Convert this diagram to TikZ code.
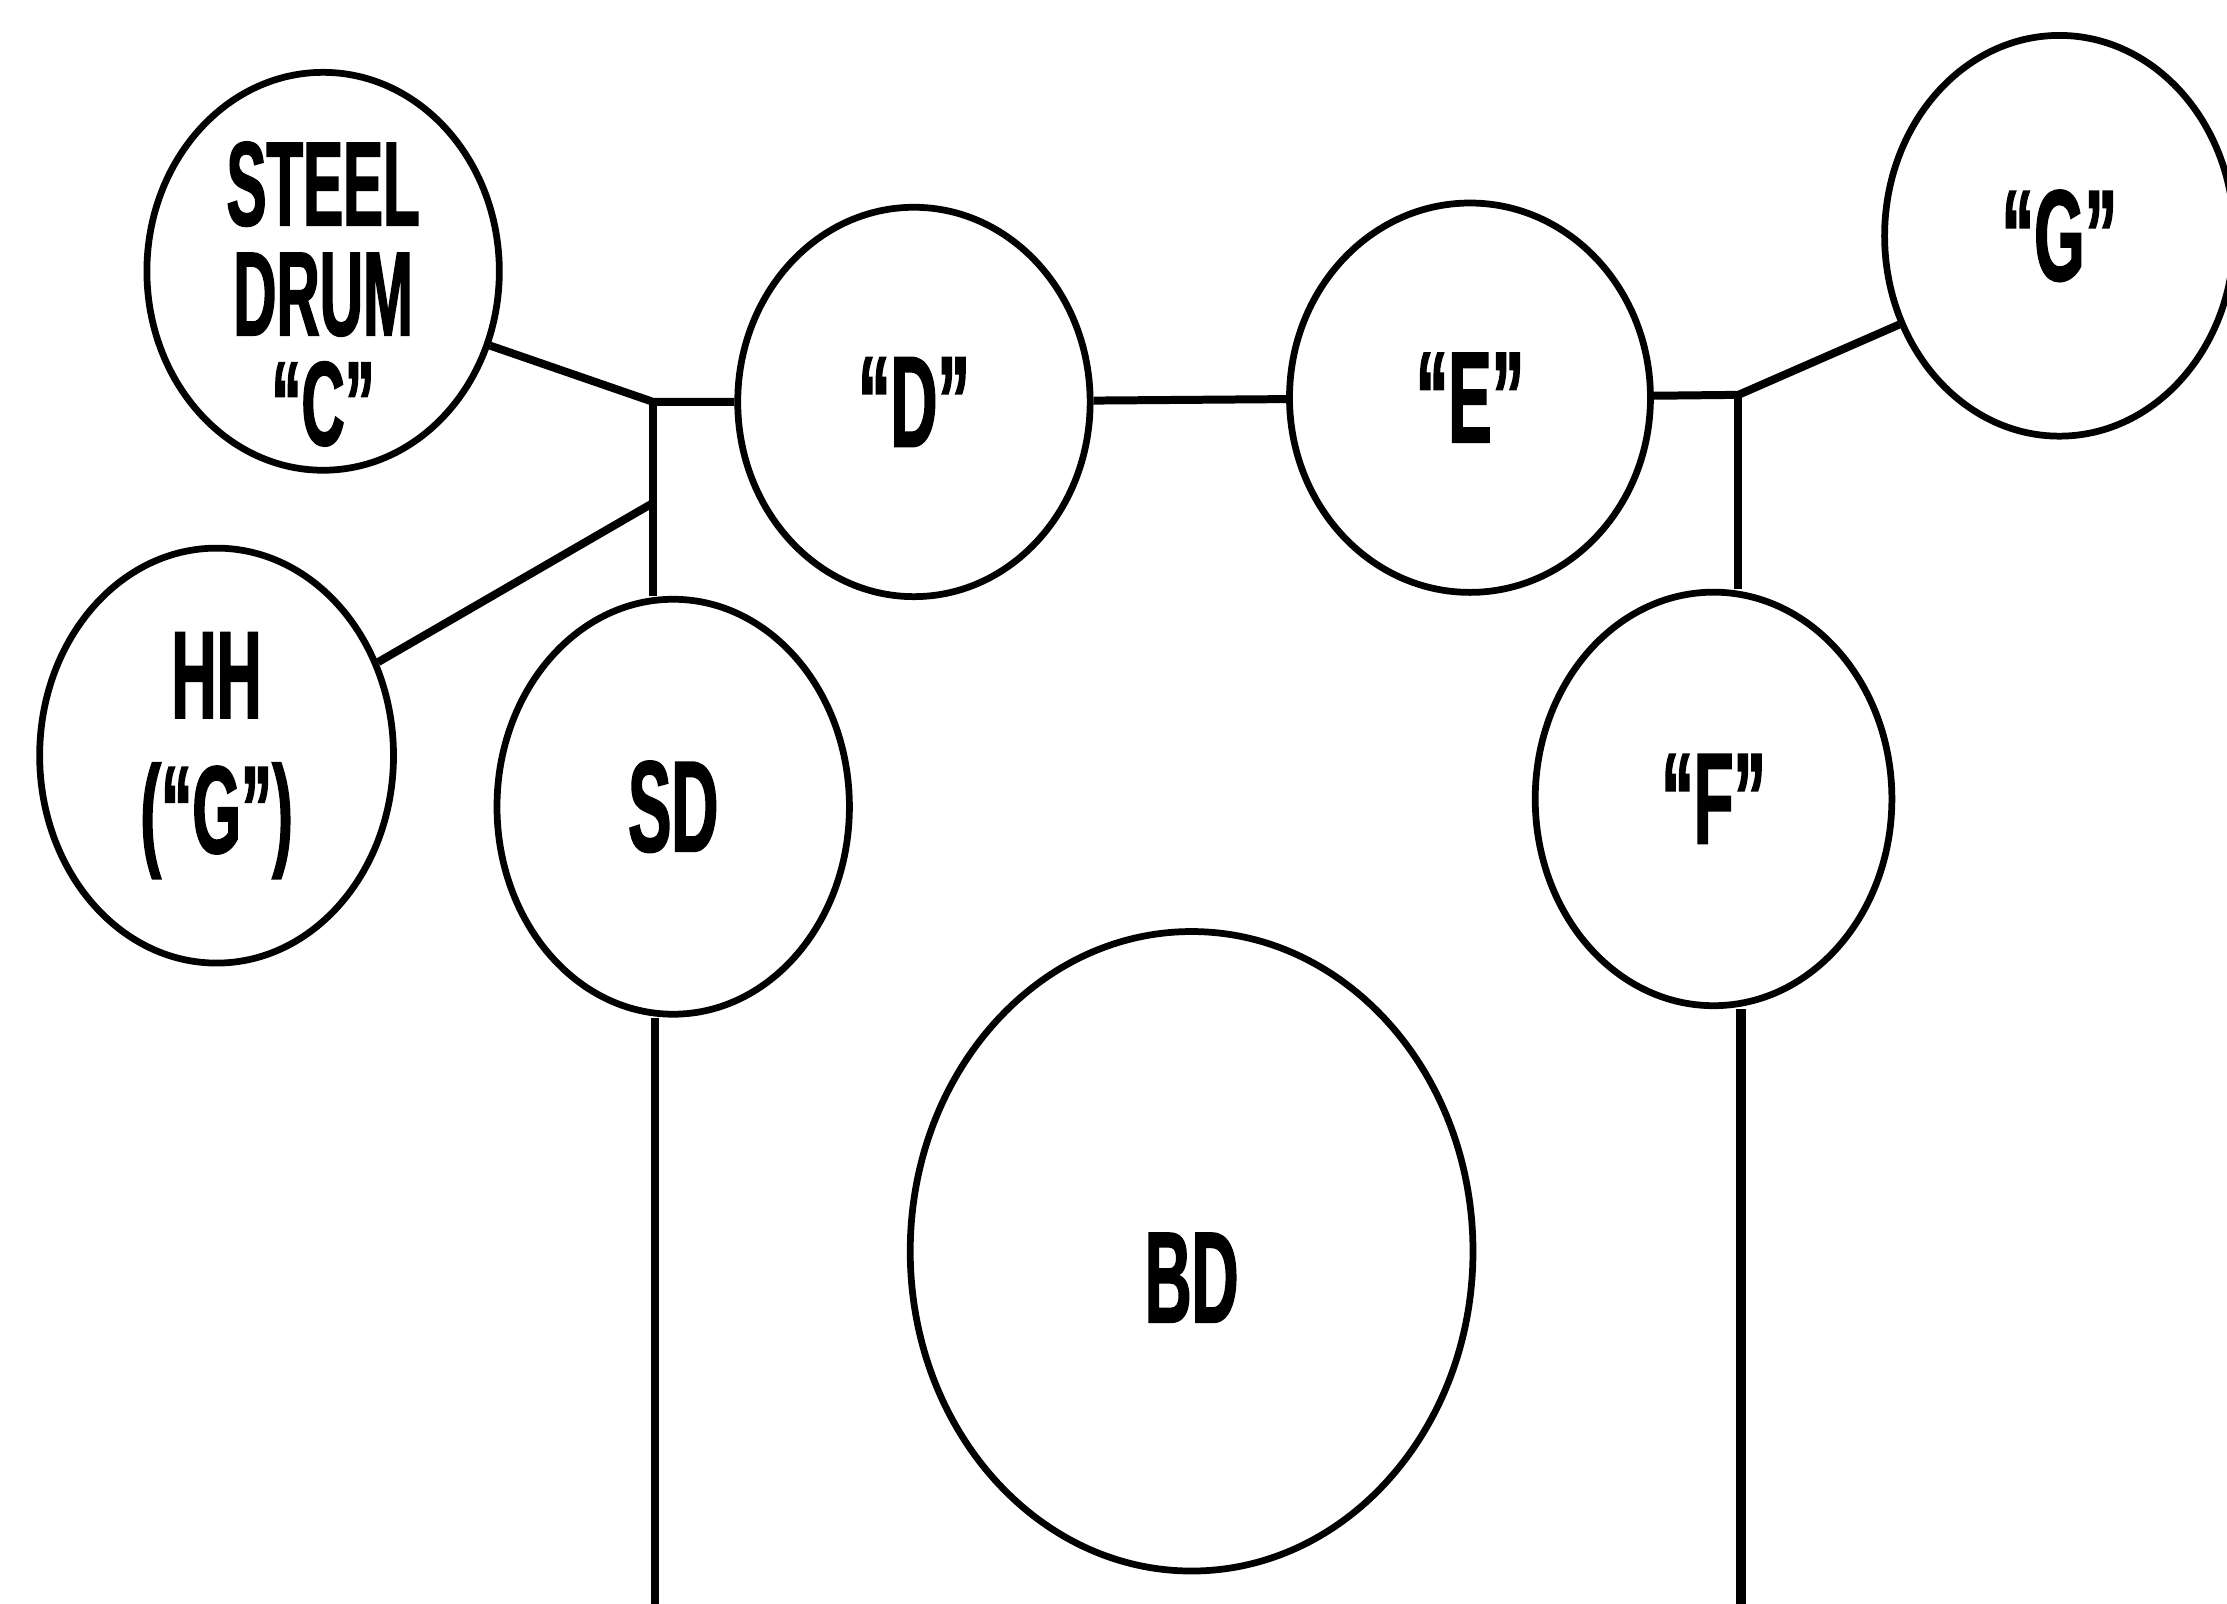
\documentclass[tikz,border=0pt]{standalone}
\usepackage{fontspec}
\newfontfamily\drumfont{Liberation Sans}[FakeStretch=0.5,FakeBold=1.2]
\usetikzlibrary{shapes.geometric}

\begin{document}
\begin{tikzpicture}[x=0.01cm,y=-0.01cm,drum/.style={ellipse,draw,line width=1.35pt,inner sep=0pt,align=center,font=\drumfont\bfseries\fontsize{26}{27}\selectfont},stand/.style={line width=1.6pt}]
 \useasboundingbox (0,0) rectangle (1568,1129);
 \node[drum,minimum width=2.48cm,minimum height=2.8cm,label={[align=center,yshift=-0.16cm,font=\drumfont\bfseries\fontsize{24}{22}\selectfont]center:STEEL\\DRUM\\“C”}] (steel) at (227.5,191) {};
 \node[drum,minimum width=2.48cm,minimum height=2.74cm] (D) at (643.5,283) {“D”};
 \node[drum,minimum width=2.54cm,minimum height=2.74cm] (E) at (1035,280) {“E”};
 \node[drum,minimum width=2.46cm,minimum height=2.82cm] (G) at (1450,166) {“G”};
 \node[drum,minimum width=2.49cm,minimum height=2.92cm,font=\drumfont\bfseries\fontsize{25}{27}\selectfont] (HH) at (152.5,532) {HH\\(“G”)};
 \node[drum,minimum width=2.48cm,minimum height=2.92cm] (SD) at (474,568) {SD};
 \node[drum,minimum width=2.51cm,minimum height=2.91cm] (F) at (1206.5,562.5) {“F”};
 \node[drum,minimum width=3.96cm,minimum height=4.5cm,text height=1cm,text depth=0pt] (BD) at (839,881) {BD};
 \coordinate (jl) at (460,283); \coordinate (jh) at (460,354); \coordinate (jr) at (1224,278);
 \coordinate (sdend) at (461,1129); \coordinate (fend) at (1226,1129);
 \draw[stand] (steel.-24) -- (jl) -- (D); \draw[stand] (jl) -- (jl |- SD.north); \draw[stand] (HH) -- (jh);
 \draw[stand] (D) -- (E); \draw[stand] (E) -- (jr) -- (G.209); \draw[stand] (jr) -- (jr |- F.north);
 \draw[stand] (sdend |- SD.south) -- (sdend); \draw[stand,line width=2pt] (fend |- F.south) -- (fend);
\end{tikzpicture}
\end{document}
